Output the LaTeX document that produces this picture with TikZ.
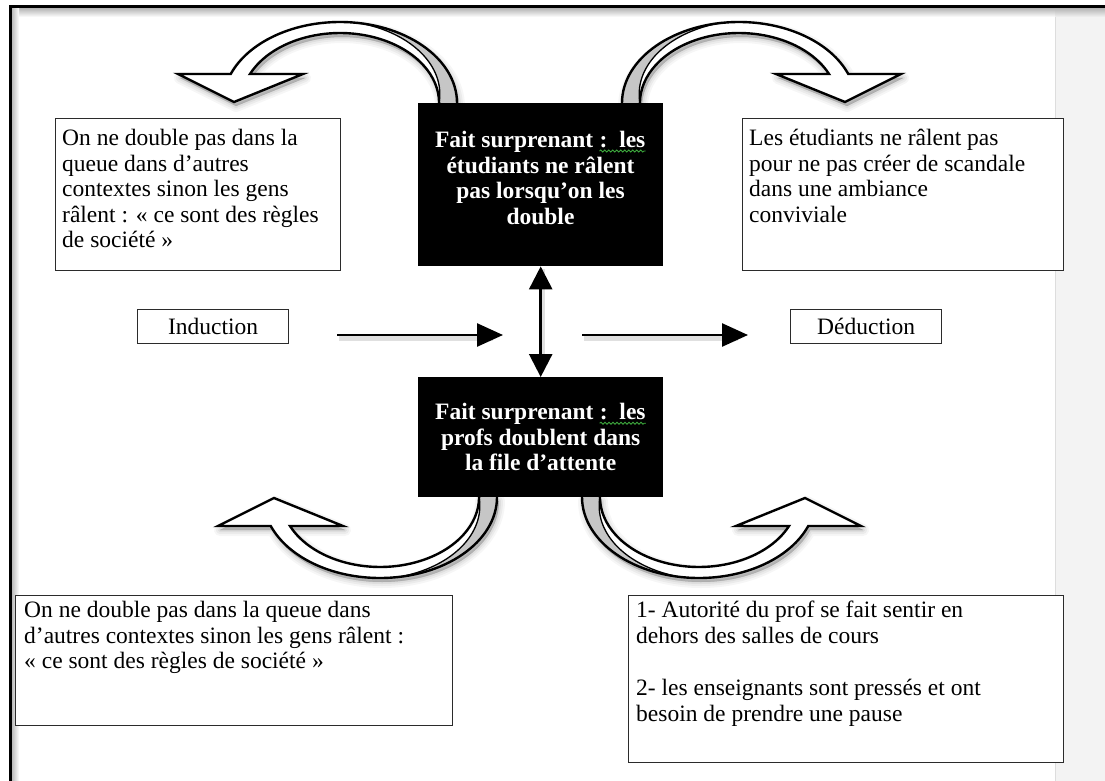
\documentclass[tikz,border=0pt]{standalone}
\usepackage{fontspec}
\setmainfont{Liberation Serif}
\usetikzlibrary{arrows.meta,decorations.pathmorphing}
\definecolor{ribbongray}{HTML}{C6C6C6}
\definecolor{stripgray}{HTML}{F3F3F3}
\definecolor{stripline}{HTML}{DDDDDD}
\definecolor{boxline}{HTML}{2B2B2B}
\definecolor{squiggle}{HTML}{3DAA3D}
\newcommand{\squig}[1]{\tikz[baseline=(sq.base)]{\node[inner sep=0pt, text=white] (sq) {#1};\draw[squiggle, line width=0.8pt, decorate, decoration={snake, amplitude=1pt, segment length=4pt}] ([yshift=-3.5pt]sq.base west) -- ([yshift=-3.5pt]sq.base east);}}
\newcommand{\ribbonpath}{(622,-103) arc[start angle=180, end angle=21, x radius=117, y radius=81]
    -- (901,-74) -- (845,-102) -- (776,-74) -- (829,-74)
    arc[start angle=24.5, end angle=180, x radius=99, y radius=70] -- cycle}
\newcommand{\ribbonshape}[2]{%
  \begin{scope}[shift={(#1,#2)}]
    \foreach \w/\o in {12/0.035, 8/0.045, 4/0.055, 0.5/0.07} {\filldraw[black, opacity=\o, line width=\w pt, line join=round] \ribbonpath;}
  \end{scope}
  \fill[white] \ribbonpath;
  \fill[ribbongray] (622,-103) arc[start angle=180, end angle=100, x radius=117, y radius=81]
    -- plot[domain=100:180, samples=40, variable=\t]
       ({739+(117-18*(\t-100)/80)*cos(\t)}, {-103+(81-11*(\t-100)/80)*sin(\t)}) -- cycle;
  \draw[line width=1.3pt] plot[domain=100:180, samples=40, variable=\t]
       ({739+(117-18*(\t-100)/80)*cos(\t)}, {-103+(81-11*(\t-100)/80)*sin(\t)});
  \draw[ribbonline]
    (622,-106) -- (622,-103) arc[start angle=180, end angle=21, x radius=117, y radius=81]
    -- (901,-74) -- (845,-102) -- (776,-74) -- (829,-74)
    arc[start angle=24.5, end angle=180, x radius=99, y radius=70] -- (640,-106);
}
\tikzset{
  ribbonline/.style={line width=2.4pt, line join=miter},
  whitebox/.style={draw=boxline, line width=1.3pt, fill=white, inner sep=0pt, anchor=north west},
  factbox/.style={fill=black, inner sep=0pt, anchor=north west},
  txt/.style={font=\fontsize{23.5}{25.5}\selectfont, align=left, inner sep=0pt, anchor=north west},
  facttxt/.style={font=\fontsize{23.5}{25.5}\selectfont\bfseries, text=white, align=center, inner sep=0pt},
  flowarrow/.style={line width=2.6pt, -{Triangle[length=26pt,width=23pt]},
    preaction={draw=black, draw opacity=0.12, line width=6pt, arrows=-, shorten >=12pt, transform canvas={shift={(1.5pt,-3pt)}}}},
}
\begin{document}
\begin{tikzpicture}[x=1pt, y=1pt]
\useasboundingbox (0,0) rectangle (1105,-781);
\fill[white] (0,0) rectangle (1105,-781);
% page edge strip
\fill[stripgray] (1055,-8) rectangle (1105,-781);
\draw[stripline, line width=1pt] (1055,-8) -- (1055,-781);
% frame shadows
\shade[top color=black!28, bottom color=white] (10,-8.5) rectangle (1055,-17);
\shade[top color=black!28, bottom color=stripgray] (1055,-8.5) rectangle (1105,-17);
\shade[left color=black!28, right color=white] (11.5,-8) rectangle (19,-781);
% frame
\draw[line width=3pt] (10,-781) -- (10,-7) -- (1105,-7);
% curved arrows
\begin{scope}\ribbonshape{2}{-4}\end{scope}
\begin{scope}[xshift=1079pt, xscale=-1]\ribbonshape{-2}{-4}\end{scope}
\begin{scope}[yshift=-600pt, yscale=-1, xshift=-40pt]\ribbonshape{2}{4}\end{scope}
\begin{scope}[xshift=1079pt, xscale=-1, yshift=-600pt, yscale=-1, xshift=-40pt]\ribbonshape{-2}{4}\end{scope}
% boxes
\node[whitebox, minimum width=285pt, minimum height=152pt] (tlbox) at (55,-118) {};
\node[txt] (tltext) at (62,-129) {On ne double pas dans la\\queue dans d’autres\\contextes sinon les gens\\râlent : « ce sont des règles\\de société »};
\node[whitebox, minimum width=321pt, minimum height=152pt] (trbox) at (742,-118) {};
\node[txt] (trtext) at (749,-129) {Les étudiants ne râlent pas\\pour ne pas créer de scandale\\dans une ambiance\\conviviale};
\node[whitebox, minimum width=151pt, minimum height=34pt, font=\fontsize{23.5}{25.5}\selectfont] (ind) at (137,-309) {Induction};
\node[whitebox, minimum width=151pt, minimum height=34pt, font=\fontsize{23.5}{25.5}\selectfont] (ded) at (790,-309) {Déduction};
\node[factbox, minimum width=245pt, minimum height=163pt] (topfact) at (418,-103) {};
\node[facttxt, anchor=north] (toptext) at (540.5,-131) {Fait surprenant \squig{:\ \ les}\\étudiants ne râlent\\pas lorsqu’on les\\double};
\node[factbox, minimum width=245pt, minimum height=120pt] (botfact) at (418,-377) {};
\node[facttxt] (bottext) at (botfact.center) {Fait surprenant \squig{:\ \ les}\\profs doublent dans\\la file d’attente};
\node[whitebox, minimum width=437pt, minimum height=130pt] (blbox) at (15,-595) {};
\node[txt] (bltext) at (24,-601) {On ne double pas dans la queue dans\\d’autres contextes sinon les gens râlent :\\« ce sont des règles de société »};
\node[whitebox, minimum width=435pt, minimum height=167pt] (brbox) at (628,-595) {};
\node[txt] (brtext) at (636,-601) {1- Autorité du prof se fait sentir en\\dehors des salles de cours\\[27pt]2- les enseignants sont pressés et ont\\besoin de prendre une pause};
% straight arrows
\coordinate (indA) at (337,-335);
\coordinate (indB) at (503,-335);
\draw[flowarrow] (indA) -- (indB);
\coordinate (dedA) at (582,-335);
\coordinate (dedB) at (748,-335);
\draw[flowarrow] (dedA) -- (dedB);
\draw[flowarrow, {Triangle[length=23pt,width=23pt]}-{Triangle[length=23pt,width=23pt]}] (topfact.south) -- (botfact.north);
\end{tikzpicture}
\end{document}
